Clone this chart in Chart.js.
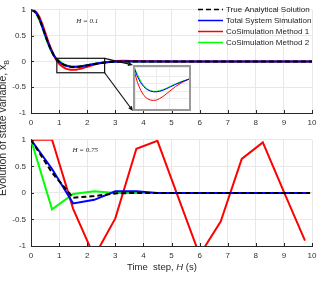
<!DOCTYPE html>
<html>
<head>
<meta charset="utf-8">
<script src="https://cdn.jsdelivr.net/npm/chart.js@4.4.0/dist/chart.umd.min.js"></script>
<style>
  html, body { margin: 0; padding: 0; background: #fff; }
  #wrap { position: relative; width: 329px; height: 295px; overflow: hidden; font-family: "Liberation Sans", Arial, sans-serif; }
  #wrap canvas { position: absolute; }
  #topC { left: 0; top: 0; }
  #botC { left: 0; top: 130px; }
  #inset { position: absolute; left: 133px; top: 65px; width: 58px; height: 46px; box-sizing: border-box; border: 2px solid #9a9a9a; background: #fff; }
  #inset canvas { left: 0; top: 0; }
  #ylab { position: absolute; left: 3px; top: 128px; transform: translate(-50%, -50%) rotate(-90deg); white-space: nowrap; font-size: 10.5px; color: #262626; }
  #xlab { position: absolute; left: 127px; top: 261px; font-size: 9.5px; color: #262626; white-space: pre; }
</style>
</head>
<body>
<div id="wrap">
  <canvas id="topC" width="329" height="130"></canvas>
  <canvas id="botC" width="329" height="165"></canvas>
  <div id="inset"><canvas id="insetC" width="54" height="42"></canvas></div>
  <div id="ylab">Evolution of state variable, x<sub style="font-size:7px">B</sub></div>
  <div id="xlab">Time  step, <i>H</i> (s)</div>
</div>
<script>
// top panel, H = 0.1
const topTime  = [0, 0.1, 0.2, 0.3, 0.4, 0.5, 0.6, 0.7, 0.8, 0.9, 1.0, 1.1, 1.2, 1.3, 1.4, 1.5, 1.6, 1.7, 1.8, 1.9, 2.0, 2.2, 2.4, 2.6, 2.8, 3.0, 3.3, 3.6, 4.0, 5, 6, 7, 8, 9, 10];
const topTrue  = [1, 0.98, 0.93, 0.82, 0.68, 0.52, 0.37, 0.24, 0.13, 0.05, -0.01, -0.05, -0.075, -0.092, -0.102, -0.107, -0.107, -0.103, -0.096, -0.087, -0.077, -0.057, -0.039, -0.024, -0.013, -0.006, 0, 0, 0, 0, 0, 0, 0, 0, 0];
const topTotal = [1, 0.98, 0.93, 0.82, 0.68, 0.52, 0.37, 0.24, 0.13, 0.05, -0.005, -0.045, -0.072, -0.09, -0.1, -0.105, -0.105, -0.102, -0.095, -0.086, -0.076, -0.056, -0.038, -0.023, -0.012, -0.005, 0, 0, 0, 0, 0, 0, 0, 0, 0];
const topCo1   = [1, 0.99, 0.95, 0.86, 0.73, 0.57, 0.41, 0.26, 0.13, 0.03, -0.045, -0.095, -0.13, -0.15, -0.16, -0.163, -0.16, -0.15, -0.137, -0.12, -0.103, -0.07, -0.043, -0.022, -0.005, 0.006, 0.012, 0.01, 0.005, 0, 0, 0, 0, 0, 0];
const topCo2   = [1, 0.975, 0.915, 0.8, 0.66, 0.5, 0.35, 0.22, 0.12, 0.055, 0.01, -0.035, -0.065, -0.085, -0.097, -0.102, -0.102, -0.098, -0.091, -0.082, -0.072, -0.052, -0.035, -0.021, -0.011, -0.004, 0, 0, 0, 0, 0, 0, 0, 0, 0];

// bottom panel, H = 0.75
const botTime     = [0, 0.75, 1.5, 2.25, 3.0, 3.75, 4.5, 5.25, 6.0, 6.75, 7.5, 8.25, 9.0, 9.75];
const botTrueTime = [0, 0.75, 1.5, 2.25, 3.0, 3.75, 4.5, 5.25, 6.0, 6.75, 7.5, 8.25, 9.0, 9.75, 10];
const botTrue  = [1, 0.38, -0.09, -0.06, -0.01, 0, 0, 0, 0, 0, 0, 0, 0, 0, 0];
const botTotal = [1, 0.45, -0.2, -0.13, 0.03, 0.03, 0, 0, 0, 0, 0, 0, 0, 0];
const botCo1   = [1, 1, -0.3, -1.2, -0.48, 0.83, 0.98, -0.1, -1.17, -0.54, 0.64, 0.95, 0.02, -0.9];
const botCo2   = [1, -0.31, -0.02, 0.03, 0, 0, 0, 0, 0, 0, 0, 0, 0, 0];

const xTicks = [0, 1, 2, 3, 4, 5, 6, 7, 8, 9, 10];
const yTicks = [-1, -0.5, 0, 0.5, 1];

const seriesNames = ['True Analytical Solution', 'Total System Simulation', 'CoSimulation Method 1', 'CoSimulation Method 2'];

const pts = (xs, ys) => xs.map((x, i) => ({ x, y: ys[i] }));

const lineStyle = [
  { borderColor: '#000000', borderDash: [5, 3] },
  { borderColor: '#0000ff', borderDash: [] },
  { borderColor: '#ff0000', borderDash: [] },
  { borderColor: '#00ff00', borderDash: [] }
];

function makeDatasets(sets, width) {
  return sets.map((d, i) => ({
    label: seriesNames[i],
    data: d,
    borderColor: lineStyle[i].borderColor,
    borderDash: lineStyle[i].borderDash,
    borderWidth: width,
    pointRadius: 0,
    tension: 0,
    fill: false
  }));
}

const tickFont = { family: 'Liberation Sans', size: 8 };

function scalesFor(xHeight) {
  return {
    x: {
      type: 'linear', min: 0, max: 10,
      afterBuildTicks: s => { s.ticks = xTicks.map(v => ({ value: v })); },
      afterFit: s => { s.height = xHeight; },
      grid: { color: '#e8e8e8', drawTicks: false },
      border: { color: '#262626', width: 1 },
      ticks: { font: tickFont, color: '#333', padding: 5, maxRotation: 0, callback: v => String(v) }
    },
    y: {
      min: -1, max: 1,
      afterBuildTicks: s => { s.ticks = yTicks.map(v => ({ value: v })); },
      afterFit: s => { s.width = 31; },
      grid: { color: '#e8e8e8', drawTicks: false },
      border: { color: '#262626', width: 1 },
      ticks: { font: tickFont, color: '#333', padding: 5, callback: v => String(v) }
    }
  };
}

// MATLAB style ticks pointing into the plot
const inwardTicks = {
  id: 'inwardTicks',
  afterDatasetsDraw(chart) {
    const { ctx, chartArea: a, scales: { x, y } } = chart;
    ctx.save();
    ctx.strokeStyle = '#262626';
    ctx.lineWidth = 1;
    x.ticks.forEach(t => {
      const px = Math.round(x.getPixelForValue(t.value)) + 0.5;
      ctx.beginPath(); ctx.moveTo(px, a.bottom); ctx.lineTo(px, a.bottom - 3); ctx.stroke();
    });
    y.ticks.forEach(t => {
      const py = Math.round(y.getPixelForValue(t.value)) + 0.5;
      ctx.beginPath(); ctx.moveTo(a.left, py); ctx.lineTo(a.left + 3, py); ctx.stroke();
    });
    ctx.restore();
  }
};

// step size label inside a panel
const stepNote = {
  id: 'stepNote',
  afterDraw(chart, args, opts) {
    const { ctx, scales: { x, y } } = chart;
    ctx.save();
    ctx.font = 'italic 7px "Liberation Serif"';
    ctx.fillStyle = '#222';
    ctx.textAlign = 'center';
    ctx.textBaseline = 'middle';
    ctx.fillText(opts.text, x.getPixelForValue(opts.x), y.getPixelForValue(opts.y));
    ctx.restore();
  }
};

function arrow(ctx, x0, y0, x1, y1) {
  const ang = Math.atan2(y1 - y0, x1 - x0);
  const len = 5, half = 2.2;
  ctx.beginPath(); ctx.moveTo(x0, y0); ctx.lineTo(x1 - Math.cos(ang) * len, y1 - Math.sin(ang) * len); ctx.stroke();
  ctx.beginPath();
  ctx.moveTo(x1, y1);
  ctx.lineTo(x1 - Math.cos(ang) * len - Math.sin(ang) * half, y1 - Math.sin(ang) * len + Math.cos(ang) * half);
  ctx.lineTo(x1 - Math.cos(ang) * len + Math.sin(ang) * half, y1 - Math.sin(ang) * len - Math.cos(ang) * half);
  ctx.closePath(); ctx.fill();
}

// zoom box, arrows to the inset and the legend
const zoomBox = {
  id: 'zoomBox',
  afterDraw(chart, args, opts) {
    const { ctx, scales: { x, y } } = chart;
    const l = x.getPixelForValue(opts.x0), r = x.getPixelForValue(opts.x1);
    const t = y.getPixelForValue(opts.y1), b = y.getPixelForValue(opts.y0);
    const box = document.getElementById('inset');
    const il = box.offsetLeft, it = box.offsetTop, ib = it + box.offsetHeight;
    ctx.save();
    ctx.strokeStyle = '#111'; ctx.fillStyle = '#111'; ctx.lineWidth = 1.2;
    ctx.strokeRect(l, t, r - l, b - t);
    arrow(ctx, r, t, il, it);
    arrow(ctx, r, b, il, ib);
    ctx.restore();

    // legend
    ctx.save();
    ctx.font = '8px "Liberation Sans"';
    ctx.textBaseline = 'middle';
    ctx.fillStyle = '#222';
    chart.data.datasets.forEach((ds, i) => {
      const ry = 9.5 + i * 11;
      ctx.strokeStyle = ds.borderColor;
      ctx.lineWidth = 1.5;
      ctx.setLineDash(ds.borderDash || []);
      ctx.beginPath(); ctx.moveTo(198, ry); ctx.lineTo(223, ry); ctx.stroke();
      ctx.setLineDash([]);
      ctx.fillText(ds.label, 226, ry);
    });
    ctx.restore();
  }
};

new Chart(document.getElementById('topC'), {
  type: 'line',
  data: { datasets: makeDatasets([pts(topTime, topTrue), pts(topTime, topTotal), pts(topTime, topCo1), pts(topTime, topCo2)], 2) },
  options: {
    responsive: false, animation: false, events: [],
    layout: { padding: { left: 0, right: 17, top: 3, bottom: 0 } },
    scales: scalesFor(17),
    plugins: {
      legend: { display: false }, tooltip: { enabled: false },
      stepNote: { text: 'H = 0.1', x: 2.0, y: 0.78 },
      zoomBox: { x0: 0.92, x1: 2.62, y0: -0.22, y1: 0.06 }
    }
  },
  plugins: [inwardTicks, stepNote, zoomBox]
});

new Chart(document.getElementById('botC'), {
  type: 'line',
  data: { datasets: makeDatasets([pts(botTrueTime, botTrue), pts(botTime, botTotal), pts(botTime, botCo1), pts(botTime, botCo2)], 2) },
  options: {
    responsive: false, animation: false, events: [],
    layout: { padding: { left: 0, right: 17, top: 5, bottom: 0 } },
    scales: scalesFor(49),
    plugins: {
      legend: { display: false }, tooltip: { enabled: false },
      stepNote: { text: 'H = 0.75', x: 1.93, y: 0.81 }
    }
  },
  plugins: [inwardTicks, stepNote]
});

// inset: zoom of the top panel dip
const insetSets = makeDatasets([pts(topTime, topTrue), pts(topTime, topTotal), pts(topTime, topCo1), pts(topTime, topCo2)], 1).slice(1);
new Chart(document.getElementById('insetC'), {
  type: 'line',
  data: { datasets: insetSets },
  options: {
    responsive: false, animation: false, events: [],
    layout: { padding: 0 },
    scales: {
      x: { type: 'linear', min: 0.92, max: 2.62, afterFit: s => { s.height = 0; },
           ticks: { display: false, stepSize: 0.4 }, grid: { color: '#ececec', drawTicks: false }, border: { display: false } },
      y: { min: -0.22, max: 0.06, afterFit: s => { s.width = 0; },
           ticks: { display: false, stepSize: 0.05 }, grid: { color: '#ececec', drawTicks: false }, border: { display: false } }
    },
    plugins: { legend: { display: false }, tooltip: { enabled: false } }
  }
});
</script>
</body>
</html>
